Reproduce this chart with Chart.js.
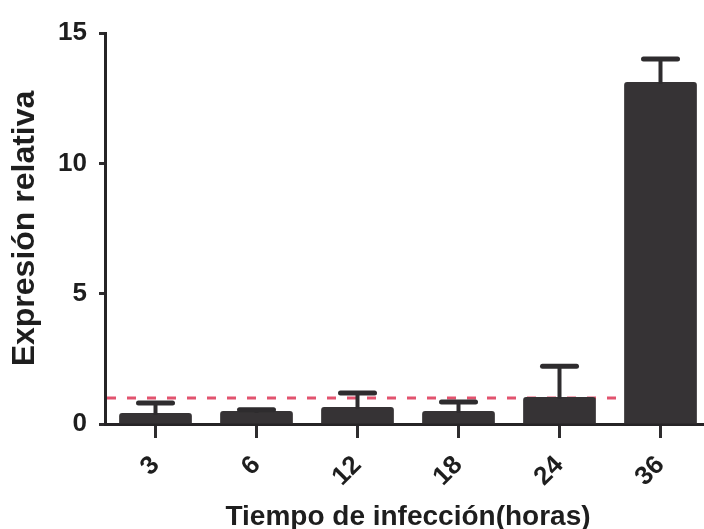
<!DOCTYPE html>
<html>
<head>
<meta charset="utf-8">
<script src="https://cdn.jsdelivr.net/npm/chart.js@4"></script>
<style>
  html, body { margin: 0; padding: 0; background: #ffffff; }
  #wrap { width: 704px; height: 529px; }
</style>
</head>
<body>
<div id="wrap"><canvas id="c" width="704" height="529"></canvas></div>
<script>
const categories = ['3', '6', '12', '18', '24', '36'];
const meanValues = [0.42, 0.50, 0.65, 0.50, 1.04, 13.12];
const errorValues = [0.39, 0.05, 0.54, 0.34, 1.18, 0.88];
const yTickValues = [0, 5, 10, 15];
const referenceLevel = 1;
const xTitle = 'Tiempo de infección(horas)';
const yTitle = 'Expresión relativa';

const FONT = "'Liberation Sans', Arial, Helvetica, sans-serif";
const INK = '#2e2c2e';

// The original figure is cropped on the right: let the x axis run past the canvas edge.
const extendX = {
  id: 'extendX',
  afterLayout(chart) {
    const s = chart.scales.x;
    const extra = 7;
    s.right += extra;
    s.width = s.right - s.left;
    s.configure();
    chart.chartArea.right = s.right;
    chart.chartArea.width = s.right - chart.chartArea.left;
  }
};

const referenceLine = {
  id: 'referenceLine',
  beforeDatasetsDraw(chart) {
    const { ctx, chartArea, scales } = chart;
    const y = scales.y.getPixelForValue(referenceLevel);
    ctx.save();
    ctx.strokeStyle = '#e2536e';
    ctx.lineWidth = 3;
    ctx.setLineDash([9, 11]);
    ctx.beginPath();
    ctx.moveTo(chartArea.left + 2, y);
    ctx.lineTo(chartArea.right, y);
    ctx.stroke();
    ctx.restore();
  }
};

const errorBars = {
  id: 'errorBars',
  afterDatasetsDraw(chart) {
    const { ctx, scales } = chart;
    const meta = chart.getDatasetMeta(0);
    ctx.save();
    ctx.strokeStyle = INK;
    meta.data.forEach((bar, i) => {
      const x = bar.x;
      const yBar = scales.y.getPixelForValue(meanValues[i]);
      const yTop = scales.y.getPixelForValue(meanValues[i] + errorValues[i]);
      ctx.lineCap = 'butt';
      ctx.lineWidth = 4;
      ctx.beginPath();
      ctx.moveTo(x, yBar + 2);
      ctx.lineTo(x, yTop);
      ctx.stroke();
      ctx.lineCap = 'round';
      ctx.lineWidth = 5;
      ctx.beginPath();
      ctx.moveTo(x - 17, yTop);
      ctx.lineTo(x + 17, yTop);
      ctx.stroke();
    });
    ctx.restore();
  }
};

new Chart(document.getElementById('c'), {
  type: 'bar',
  data: {
    labels: categories,
    datasets: [{
      data: meanValues,
      backgroundColor: '#363335',
      borderWidth: 0,
      borderRadius: { topLeft: 3, topRight: 3, bottomLeft: 0, bottomRight: 0 },
      borderSkipped: false,
      barPercentage: 0.72,
      categoryPercentage: 1.0
    }]
  },
  options: {
    responsive: false,
    animation: false,
    devicePixelRatio: 1,
    layout: { padding: { top: 33, right: 0, left: 0, bottom: 0 } },
    plugins: {
      legend: { display: false },
      tooltip: { enabled: false }
    },
    scales: {
      x: {
        type: 'category',
        afterFit(scale) { scale.height = 105; },
        grid: {
          display: true,
          drawOnChartArea: false,
          drawTicks: true,
          tickLength: 14,
          tickWidth: 3,
          tickColor: INK,
          offset: false
        },
        border: { display: true, color: '#262426', width: 3 },
        ticks: {
          autoSkip: false,
          minRotation: 45,
          maxRotation: 45,
          padding: 12,
          color: '#1e1e1e',
          font: { family: FONT, size: 26, weight: 'bold' }
        },
        title: {
          display: true,
          text: xTitle,
          color: '#1e1e1e',
          font: { family: FONT, size: 28, weight: 'bold' },
          padding: { top: 0, bottom: -5 }
        }
      },
      y: {
        min: 0,
        max: 15,
        afterFit(scale) { scale.width = 105; },
        afterBuildTicks(scale) { scale.ticks = yTickValues.map(v => ({ value: v })); },
        grid: {
          display: true,
          drawOnChartArea: false,
          drawTicks: true,
          tickLength: 6,
          tickWidth: 3,
          tickColor: INK
        },
        border: { display: true, color: '#262426', width: 3 },
        ticks: {
          padding: 12,
          color: '#1e1e1e',
          font: { family: FONT, size: 26, weight: 'bold' }
        },
        title: {
          display: true,
          text: yTitle,
          color: '#1e1e1e',
          font: { family: FONT, size: 32, weight: 'bold' },
          padding: { top: 6, bottom: 0 }
        }
      }
    }
  },
  plugins: [extendX, referenceLine, errorBars]
});
</script>
</body>
</html>
